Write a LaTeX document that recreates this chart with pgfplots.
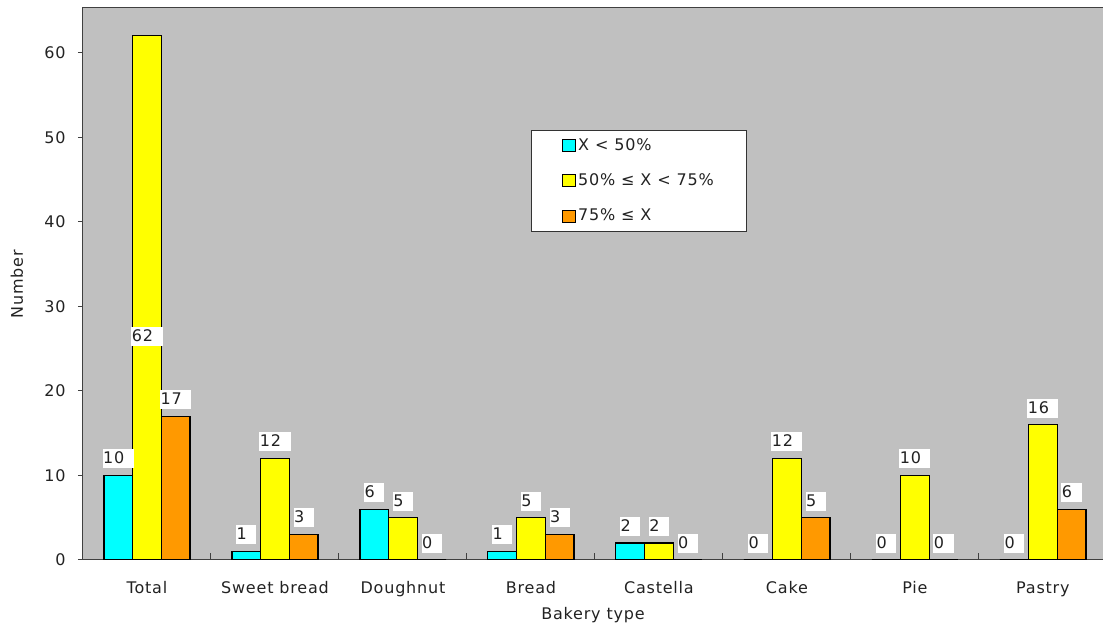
\documentclass[border=0pt]{standalone}
\usepackage{fontspec}
\setmainfont{DejaVu Sans}[LetterSpace=5]
\usepackage{pgfplots}
\pgfplotsset{compat=1.18}

\definecolor{bggray}{HTML}{C0C0C0}
\definecolor{cyanbar}{HTML}{00FFFF}
\definecolor{yellowbar}{HTML}{FFFF00}
\definecolor{orangebar}{HTML}{FF9900}
\definecolor{txt}{HTML}{222222}

% bar values
\pgfplotstableread{
x cyan yellow orange
0 10 62 17
1 1  12 3
2 6  5  0
3 1  5  3
4 2  2  0
5 0  12 5
6 0  10 0
7 0  16 6
}\bars

\tikzset{lbl/.style={fill=white, text=txt, inner xsep=0.5bp, inner ysep=2.5bp,
  text height=12bp, text depth=2bp, anchor=south, yshift=7bp}}

\begin{document}
\fontsize{16bp}{19bp}\selectfont
\begin{tikzpicture}
\begin{axis}[
    scale only axis,
    width=1020bp, height=552bp,
    xmin=-0.5, xmax=7.47,
    ymin=0, ymax=65.3,
    axis background/.style={fill=bggray},
    ybar, bar width=28.7bp,
    xtick={0,...,7},
    xticklabels={Total,Sweet bread,Doughnut,Bread,Castella,Cake,Pie,Pastry},
    minor xtick={0.5,1.5,...,6.5},
    ytick={0,10,...,60},
    tick pos=left,
    xtick align=inside, ytick align=outside,
    major tick length=5bp, minor tick length=7bp,
    major x tick style={draw=none},
    tick style={black!75, line width=1bp},
    axis line style={black!75, line width=1bp},
    /pgf/number format/assume math mode=true,
    ticklabel style={text=txt},
    xticklabel style={yshift=-16bp},
    yticklabel style={xshift=-7bp},
    xlabel={Bakery type}, ylabel={Number},
    every axis x label/.style={at={(rel axis cs:0.5,0)}, anchor=center, yshift=-55bp, text=txt},
    every axis y label/.style={at={(rel axis cs:0,0.5)}, xshift=-66bp, anchor=center, rotate=90, text=txt},
    legend cell align=left,
    legend style={at={(0.439,0.779)}, anchor=north west, draw=black!80, fill=white,
      line width=0.8bp, inner xsep=31bp, inner ysep=7bp, row sep=19bp,
      nodes={inner ysep=1bp, inner xsep=2bp, text=txt}},
    legend image code/.code={\draw[#1, line width=1bp] (0bp,-6bp) rectangle (13bp,6bp);},
  ]
  \addplot[fill=cyanbar, draw=black, line width=1.2bp, bar shift=-28.7bp] table[x=x, y=cyan] {\bars};
  \addplot[fill=yellowbar, draw=black, line width=1.2bp, bar shift=0bp] table[x=x, y=yellow] {\bars};
  \addplot[fill=orangebar, draw=black, line width=1.2bp, bar shift=28.7bp] table[x=x, y=orange] {\bars};

  % value labels (the 62 sits lower, as in the original)
  \addplot[draw=none, fill=none, forget plot, bar shift=-28.7bp,
    nodes near coords={\pgfplotspointmeta\kern9bp}, point meta=explicit symbolic,
    every node near coord/.append style={lbl}]
    table[meta=lab] {
    x y lab
    0 10 10
    1 1 1
    2 6 6
    3 1 1
    4 2 2
    5 0 0
    6 0 0
    7 0 0
  };
  \addplot[draw=none, fill=none, forget plot, bar shift=0bp,
    nodes near coords={\pgfplotspointmeta\kern9bp}, point meta=explicit symbolic,
    every node near coord/.append style={lbl}]
    table[meta=lab] {
    x y lab
    0 24.5 62
    1 12 12
    2 5 5
    3 5 5
    4 2 2
    5 12 12
    6 10 10
    7 16 16
  };
  \addplot[draw=none, fill=none, forget plot, bar shift=28.7bp,
    nodes near coords={\pgfplotspointmeta\kern9bp}, point meta=explicit symbolic,
    every node near coord/.append style={lbl}]
    table[meta=lab] {
    x y lab
    0 17 17
    1 3 3
    2 0 0
    3 3 3
    4 0 0
    5 5 5
    6 0 0
    7 6 6
  };
  \legend{X < 50\%, 50\% ≤ X < 75\%, 75\% ≤ X}
\end{axis}
\pgfresetboundingbox
\path[use as bounding box] ([xshift=-83bp,yshift=-66bp]current axis.south west)
  rectangle ([yshift=8bp]current axis.north east);
\end{tikzpicture}
\end{document}
